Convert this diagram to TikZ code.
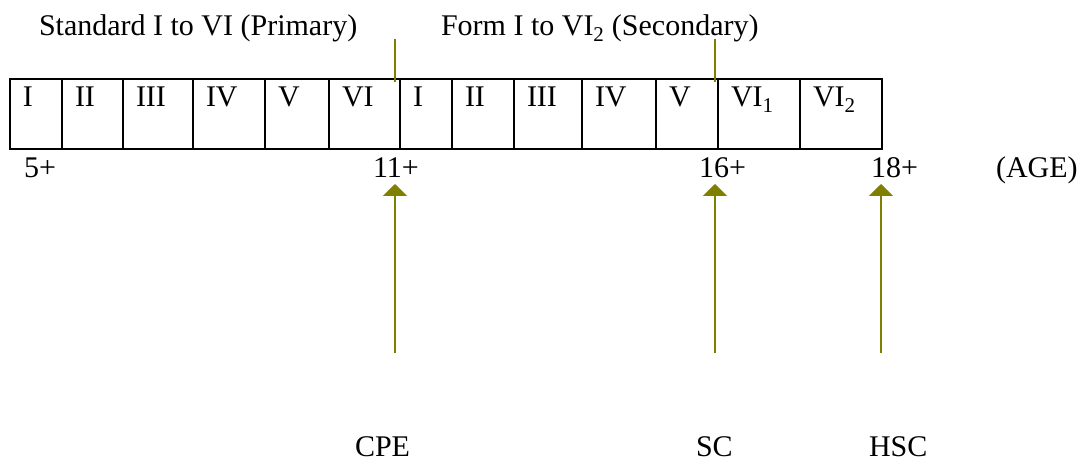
\documentclass[tikz,border=0pt]{standalone}
\usepackage{fontspec}
\setmainfont{Liberation Serif}
\usetikzlibrary{arrows.meta}
\definecolor{olivemark}{RGB}{128,128,0}
\begin{document}
\begin{tikzpicture}[x=1pt,y=-1pt,
  every node/.style={font=\fontsize{30}{36}\selectfont, inner sep=0pt, outer sep=0pt},
  cell/.style={draw=black, line width=2pt, minimum height=70pt, anchor=north west},
  txt/.style={anchor=base west},
  tick/.style={draw=olivemark, line width=2pt},
  agearrow/.style={draw=olivemark, line width=2pt, -{Triangle[width=24pt,length=12pt]}}]
\useasboundingbox (0,0) rectangle (1078,462);

% headings
\node[txt] (primary) at (39,36) {Standard I to VI (Primary)};
\node[txt] (secondary) at (441,36) {Form I to VI\textsubscript{2} (Secondary)};

% class cells
\foreach \i/\l/\r/\t in {1/10/62/I, 2/62/123/II, 3/123/193/III, 4/193/265/IV,
    5/265/329/V, 6/329/400/VI, 7/400/452/I, 8/452/514/II, 9/514/582/III,
    10/582/656/IV, 11/656/718/V, 12/718/800/{VI\textsubscript{1}},
    13/800/882/{VI\textsubscript{2}}} {
  \node[cell, minimum width={(\r-\l)*1pt}] (c\i) at (\l,79) {};
  \node[txt] (t\i) at (\l+13,107) {\t};
}

% division marks
\coordinate (markAtop) at (395,39);
\coordinate (markAbot) at (395,82);
\coordinate (markBtop) at (715,39);
\coordinate (markBbot) at (715,82);
\draw[tick] (markAtop) -- (markAbot);
\draw[tick] (markBtop) -- (markBbot);

% ages
\node[txt] (age5) at (24,178) {5+};
\node[txt] (age11) at (373,178) {11+};
\node[txt] (age16) at (699,178) {16+};
\node[txt] (age18) at (871,178) {18+};
\node[txt] (agelabel) at (996,178) {(AGE)};

% examinations
\node[txt] (cpe) at (355,456) {CPE};
\node[txt] (sc) at (696,456) {SC};
\node[txt] (hsc) at (869,456) {HSC};

% arrows up to the ages
\coordinate (cpeFrom) at (395,353);
\coordinate (cpeTo) at (395,184);
\coordinate (scFrom) at (715,353);
\coordinate (scTo) at (715,184);
\coordinate (hscFrom) at (881,353);
\coordinate (hscTo) at (881,184);
\draw[agearrow] (cpeFrom) -- (cpeTo);
\draw[agearrow] (scFrom) -- (scTo);
\draw[agearrow] (hscFrom) -- (hscTo);
\end{tikzpicture}
\end{document}
